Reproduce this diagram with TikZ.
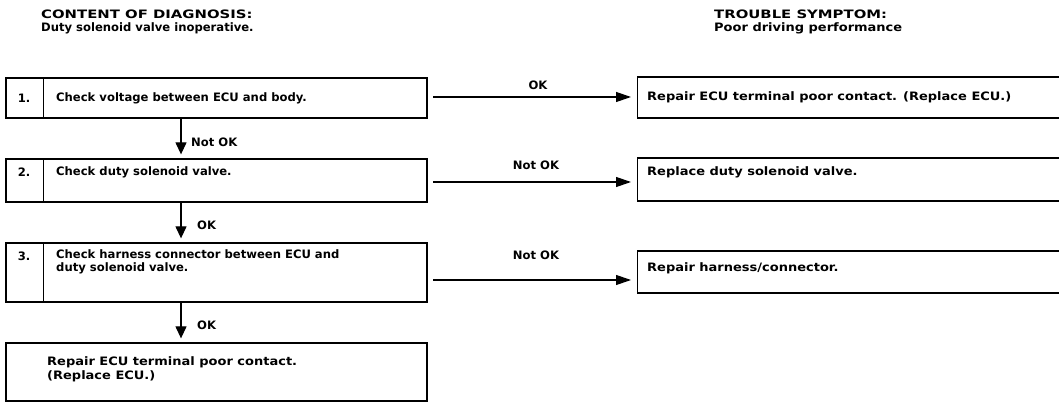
\documentclass[tikz,border=0pt]{standalone}
\usepackage{fontspec}
\setmainfont{DejaVu Sans Bold}
\newfontfamily\hdrcaps{DejaVu Sans Bold}[FakeStretch=1.28]
\newfontfamily\wide{DejaVu Sans Bold}[FakeStretch=1.12]
\usetikzlibrary{arrows.meta}
\begin{document}
\begin{tikzpicture}[x=1pt,y=-1pt,
  box/.style={draw, line width=1.3pt, inner sep=0pt},
  txt/.style={font=\fontsize{11.6}{13}\selectfont, inner sep=0pt, anchor=west, align=left},
  wtxt/.style={font=\fontsize{11.6}{14}\selectfont\wide, inner sep=0pt, anchor=west, align=left},
  hdr/.style={font=\fontsize{11.6}{14}\selectfont, inner sep=0pt, anchor=west, align=left},
  harrow/.style={line width=1.2pt, -{Triangle[length=15pt,width=10pt]}},
  varrow/.style={line width=1.2pt, -{Triangle[length=12pt,width=11pt]}, shorten >=4pt},
  lbl/.style={font=\fontsize{11.6}{13}\selectfont, inner sep=0pt}
]
\useasboundingbox (0,0) rectangle (1059,403);
\clip (0,0) rectangle (1059,403);

% headers
\node[hdr] (h1) at (41,14) {\hdrcaps CONTENT OF DIAGNOSIS:};
\node[hdr] (h2) at (41,28) {Duty solenoid valve inoperative.};
\node[hdr] (h3) at (714,14) {\hdrcaps TROUBLE SYMPTOM:};
\node[hdr] (h4) at (714,28) {\wide Poor driving performance};

% left boxes
\node[box, minimum width=421pt, minimum height=40pt] (b1) at (216.5,98) {};
\node[box, minimum width=421pt, minimum height=43pt] (b2) at (216.5,180.5) {};
\node[box, minimum width=421pt, minimum height=59pt] (b3) at (216.5,272.5) {};
\node[box, minimum width=421pt, minimum height=58pt] (b4) at (216.5,372) {};

% dividers
\coordinate (d1t) at (43,78); \coordinate (d1b) at (43,118);
\coordinate (d2t) at (43,159); \coordinate (d2b) at (43,202);
\coordinate (d3t) at (43,243); \coordinate (d3b) at (43,302);
\draw[line width=1pt] (d1t) -- (d1b);
\draw[line width=1pt] (d2t) -- (d2b);
\draw[line width=1pt] (d3t) -- (d3b);

% numbers
\node[lbl] (n1) at (24,98) {1.};
\node[lbl] (n2) at (24,172) {2.};
\node[lbl] (n3) at (24,256) {3.};

% left texts
\node[txt] (t1) at (56,98) {Check voltage between ECU and body.};
\node[txt] (t2) at (56,172) {Check duty solenoid valve.};
\node[txt] (t3) at (56,262) {Check harness connector between ECU and\\duty solenoid valve.};
\node[wtxt] (t4) at (47,369) {Repair ECU terminal poor contact.\\(Replace ECU.)};

% right boxes
\node[box, minimum width=440pt, minimum height=41pt, anchor=west] (r1) at (637,97.5) {};
\node[box, minimum width=440pt, minimum height=43pt, anchor=west] (r2) at (637,179.5) {};
\node[box, minimum width=440pt, minimum height=42pt, anchor=west] (r3) at (637,272) {};

\node[wtxt] (rt1) at (647,97) {Repair ECU terminal poor contact. (Replace ECU.)};
\node[wtxt] (rt2) at (647,172) {Replace duty solenoid valve.};
\node[wtxt] (rt3) at (647,268) {Repair harness/connector.};

% horizontal arrows
\coordinate (a1s) at (433,97); \coordinate (a1e) at (631,97);
\coordinate (a2s) at (433,182); \coordinate (a2e) at (631,182);
\coordinate (a3s) at (433,280); \coordinate (a3e) at (631,280);
\draw[harrow] (a1s) -- (a1e);
\draw[harrow] (a2s) -- (a2e);
\draw[harrow] (a3s) -- (a3e);
\node[lbl] (l1) at (538,85) {OK};
\node[lbl] (l2) at (536,165) {Not OK};
\node[lbl] (l3) at (536,255) {Not OK};

% vertical arrows
\draw[varrow] (b1.south -| 181,0) -- (b2.north -| 181,0);
\draw[varrow] (b2.south -| 181,0) -- (b3.north -| 181,0);
\draw[varrow] (b3.south -| 181,0) -- (b4.north -| 181,0);
\node[lbl, anchor=west] (v1) at (191,142) {Not OK};
\node[lbl, anchor=west] (v2) at (197,225) {OK};
\node[lbl, anchor=west] (v3) at (197,325) {OK};
\end{tikzpicture}
\end{document}
